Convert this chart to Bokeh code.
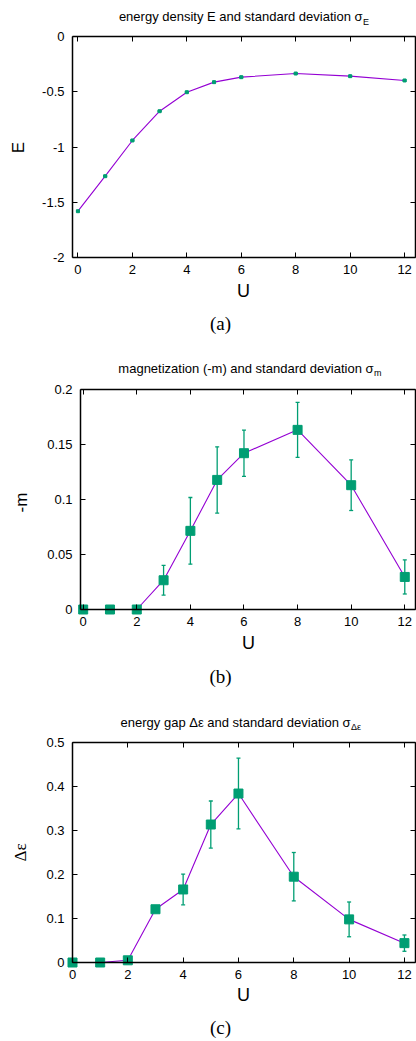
import math
from bokeh.plotting import figure
from bokeh.layouts import column
from bokeh.models import (Label, LinearAxis, Whisker, TeeHead, ColumnDataSource, Range1d,
                          FixedTicker, CustomJSTickFormatter)
from bokeh.embed import file_html
from bokeh.resources import INLINE

# ---------------- data ----------------
U = [0, 1, 2, 3, 4, 5, 6, 8, 10, 12]
E = [-1.581, -1.264, -0.941, -0.676, -0.504, -0.413, -0.368, -0.335, -0.359, -0.398]
sigma_E = [0.004, 0.004, 0.004, 0.004, 0.004, 0.004, 0.004, 0.004, 0.004, 0.006]
neg_m = [0.0, 0.0, 0.0, 0.0266, 0.0715, 0.1178, 0.1421, 0.1633, 0.113, 0.0296]
sigma_m = [0.0, 0.0, 0.0, 0.0135, 0.0303, 0.0301, 0.021, 0.025, 0.023, 0.0155]
gap = [0.0, 0.0, 0.005, 0.121, 0.166, 0.3136, 0.384, 0.195, 0.098, 0.044]
sigma_gap = [0.0, 0.0, 0.0, 0.003, 0.035, 0.0535, 0.0805, 0.055, 0.0395, 0.0185]

x_ticks = [0, 2, 4, 6, 8, 10, 12]
x_tick_labels = ["0", "2", "4", "6", "8", "10", "12"]
E_ticks = [-2, -1.5, -1, -0.5, 0]
E_tick_labels = ["-2", "-1.5", "-1", "-0.5", "0"]
m_ticks = [0, 0.05, 0.1, 0.15, 0.2]
m_tick_labels = ["0", "0.05", "0.1", "0.15", "0.2"]
gap_ticks = [0, 0.1, 0.2, 0.3, 0.4, 0.5]
gap_tick_labels = ["0", "0.1", "0.2", "0.3", "0.4", "0.5"]

LINE = "#9400D3"
PT = "#009E73"
SANS = "Liberation Sans"
SERIF = "Liberation Serif"
W = 416


def make_panel(fig_top, height, box, xlim, ylim, yt, ytl,
               y, err, marker_size, cap, title, sub, title_end, title_y, sub_y,
               ylab, ylab_font, ylab_pos, ulab_pos, tag, tag_y):
    # box = (left, right, top, bottom) in figure pixels
    bl, br, bt, bb = box
    kx = (br - bl) / (xlim[1] - xlim[0])
    ky = (bb - bt) / (ylim[1] - ylim[0])
    xr = Range1d(xlim[0] - bl / kx, xlim[1] + (W - br) / kx)
    yr = Range1d(ylim[0] - (height - bb) / ky, ylim[1] + bt / ky)

    p = figure(width=W, height=height, x_range=xr, y_range=yr,
               output_backend="svg", toolbar_location=None,
               min_border=0)
    p.title.visible = False
    p.grid.visible = False
    p.outline_line_color = None
    p.background_fill_color = "white"
    p.border_fill_color = "white"

    def style(ax, bounds, labels=True):
        ax.bounds = bounds
        ax.axis_line_color = "black"
        ax.axis_line_width = 1.5
        ax.major_tick_in = 5
        ax.major_tick_out = 0
        ax.major_tick_line_color = "black"
        ax.major_tick_line_width = 1
        ax.minor_tick_line_color = None
        ax.major_label_text_font = SANS
        ax.major_label_text_font_size = "13px"
        ax.major_label_text_color = "black"
        if not labels:
            ax.formatter = CustomJSTickFormatter(code="return ''")
            ax.major_label_standoff = 0
            ax.major_label_text_font_size = "0px"

    xa = p.xaxis[0]
    xa.ticker = FixedTicker(ticks=x_ticks)
    xa.major_label_overrides = {t: l for t, l in zip(x_ticks, x_tick_labels)}
    xa.fixed_location = ylim[0]
    style(xa, xlim)
    xa.major_label_standoff = 7
    ya = p.yaxis[0]
    ya.ticker = FixedTicker(ticks=yt)
    ya.major_label_overrides = {t: l for t, l in zip(yt, ytl)}
    ya.fixed_location = xlim[0]
    style(ya, ylim)
    ya.major_label_standoff = 8

    top_ax = LinearAxis(ticker=FixedTicker(ticks=x_ticks), fixed_location=ylim[1])
    style(top_ax, xlim, labels=False)
    p.add_layout(top_ax, "above")
    right_ax = LinearAxis(ticker=FixedTicker(ticks=yt), fixed_location=xlim[1])
    style(right_ax, ylim, labels=False)
    p.add_layout(right_ax, "right")

    src = ColumnDataSource(dict(x=U, y=y,
                                upper=[a + b for a, b in zip(y, err)],
                                lower=[a - b for a, b in zip(y, err)]))
    p.line("x", "y", source=src, line_color=LINE, line_width=1.1)
    wh = Whisker(base="x", upper="upper", lower="lower", source=src,
                 line_color=PT, line_width=1.3,
                 upper_head=TeeHead(size=cap, line_color=PT, line_width=1.3),
                 lower_head=TeeHead(size=cap, line_color=PT, line_width=1.3))
    wh.level = "glyph"
    p.add_layout(wh)
    p.scatter("x", "y", source=src, marker="square", size=marker_size,
              fill_color=PT, line_color=PT)

    def txt(text, ax, ay, size, font=SANS, align="center", baseline="middle", angle=0.0):
        lab = Label(x=ax, y=height - (ay - fig_top), x_units="screen", y_units="screen",
                    text=text, text_font=font, text_font_size=size, text_color="black",
                    text_align=align, text_baseline=baseline, angle=angle)
        p.add_layout(lab)

    txt(title, title_end, title_y, "13px", align="right")
    txt(sub, title_end + 0.5, sub_y, "9px", align="left")
    txt(ylab, ylab_pos[0], ylab_pos[1], "17px", font=ylab_font, angle=math.pi / 2)
    txt("U", ulab_pos[0], ulab_pos[1], "18px")
    txt(tag, 220, tag_y, "19px", font=SERIF)
    return p


# panel a occupies rows 0-340, panel b 340-692, panel c 692-1041 of the page
pa = make_panel(0, 340, (72, 415, 36, 257), (-0.2, 12.4), (-2, 0), E_ticks, E_tick_labels,
                E, sigma_E, 3, 4,
                "energy density E and standard deviation \u03c3", "E", 362, 16, 21,
                "E", SANS, (18, 147), (243, 290), "(a)", 323)
pb = make_panel(340, 352, (80, 415, 49, 269), (-0.1, 12.4), (0, 0.2), m_ticks, m_tick_labels,
                neg_m, sigma_m, 9, 4,
                "magnetization (-m) and standard deviation \u03c3", "m", 373, 368, 372,
                "-m", SANS, (21, 502), (248, 642), "(b)", 676)
pc = make_panel(692, 349, (72, 415, 50, 270), (0, 12.4), (0, 0.5), gap_ticks, gap_tick_labels,
                gap, sigma_gap, 9, 4,
                "energy gap \u0394\u03b5 and standard deviation \u03c3", "\u0394\u03b5", 350, 722, 726,
                "\u0394\u03b5", SERIF, (20, 852), (243, 994), "(c)", 1027)

layout = column(pa, pb, pc, spacing=0)
open("out.html", "w").write(file_html(layout, INLINE))
